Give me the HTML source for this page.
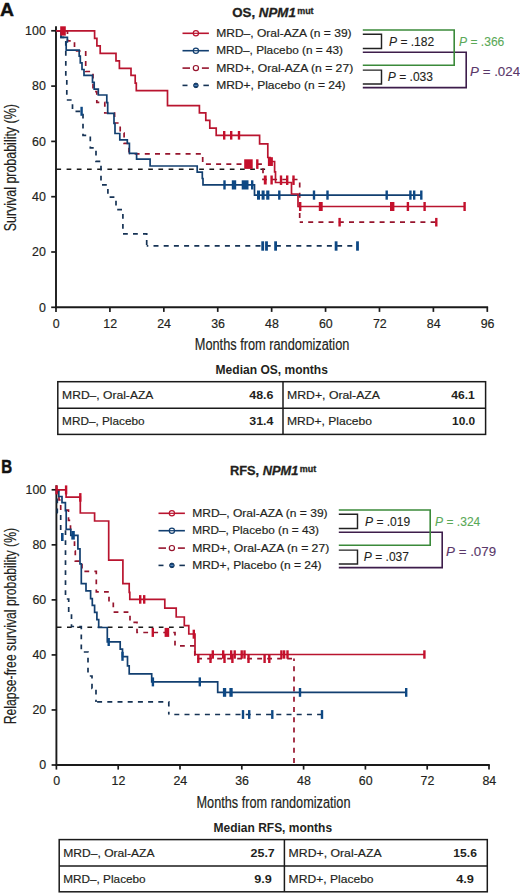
<!DOCTYPE html>
<html><head><meta charset="utf-8"><title>Figure</title>
<style>html,body{margin:0;padding:0;background:#fff;width:520px;height:893px;overflow:hidden}body{font-family:"Liberation Sans", sans-serif}</style></head>
<body>
<svg width="520" height="893" viewBox="0 0 520 893" style='display:block;font-family:"Liberation Sans", sans-serif'>
<rect x="0" y="0" width="520" height="893" fill="#fff"/>
<text x="0.0" y="15.8" font-size="18.6" font-weight="bold" font-style="normal" fill="#111" text-anchor="start" textLength="14.0" lengthAdjust="spacingAndGlyphs" stroke="#111" stroke-width="0.4">A</text>
<text x="232.2" y="16.9" font-size="13" font-weight="bold" fill="#231f20" stroke="#231f20" stroke-width="0.3"><tspan textLength="63.6" lengthAdjust="spacingAndGlyphs">OS, <tspan font-style="italic">NPM1</tspan></tspan><tspan x="297.2" font-size="9.4" font-weight="bold" font-style="normal" dy="-3.4" textLength="16.4" lengthAdjust="spacingAndGlyphs">mut</tspan></text>
<line x1="182.5" y1="33.3" x2="208.9" y2="33.3" stroke="#b9142f" stroke-width="1.6"/>
<circle cx="195.9" cy="33.3" r="2.6" fill="#fff" stroke="#b9142f" stroke-width="1.2"/>
<line x1="193.3" y1="33.3" x2="198.5" y2="33.3" stroke="#b9142f" stroke-width="1.2"/>
<line x1="182.5" y1="50.7" x2="208.9" y2="50.7" stroke="#123f70" stroke-width="1.6"/>
<circle cx="195.9" cy="50.7" r="2.6" fill="#fff" stroke="#123f70" stroke-width="1.2"/>
<line x1="193.3" y1="50.7" x2="198.5" y2="50.7" stroke="#123f70" stroke-width="1.2"/>
<line x1="182.5" y1="68.1" x2="190.0" y2="68.1" stroke="#96142d" stroke-width="1.6"/>
<line x1="201.9" y1="68.1" x2="208.9" y2="68.1" stroke="#96142d" stroke-width="1.6"/>
<circle cx="195.9" cy="68.1" r="2.6" fill="#fff" stroke="#96142d" stroke-width="1.2"/>
<line x1="182.5" y1="85.4" x2="187.5" y2="85.4" stroke="#163355" stroke-width="1.6"/>
<line x1="203.4" y1="85.4" x2="208.9" y2="85.4" stroke="#163355" stroke-width="1.6"/>
<circle cx="195.9" cy="85.4" r="2.3" fill="#0d4884" stroke="#163355" stroke-width="1.0"/>
<line x1="194.3" y1="85.4" x2="197.5" y2="85.4" stroke="#8fa8cc" stroke-width="0.7"/>
<text x="216.2" y="36.8" font-size="11.6" font-weight="normal" font-style="normal" fill="#231f20" text-anchor="start" textLength="135.4" lengthAdjust="spacingAndGlyphs" stroke="#231f20" stroke-width="0.18">MRD&#8211;, Oral-AZA (n = 39)</text>
<text x="216.2" y="54.2" font-size="11.6" font-weight="normal" font-style="normal" fill="#231f20" text-anchor="start" textLength="126.8" lengthAdjust="spacingAndGlyphs" stroke="#231f20" stroke-width="0.18">MRD&#8211;, Placebo (n = 43)</text>
<text x="216.2" y="71.6" font-size="11.6" font-weight="normal" font-style="normal" fill="#231f20" text-anchor="start" textLength="137.0" lengthAdjust="spacingAndGlyphs" stroke="#231f20" stroke-width="0.18">MRD+, Oral-AZA (n = 27)</text>
<text x="216.2" y="88.9" font-size="11.6" font-weight="normal" font-style="normal" fill="#231f20" text-anchor="start" textLength="129.4" lengthAdjust="spacingAndGlyphs" stroke="#231f20" stroke-width="0.18">MRD+, Placebo (n = 24)</text>
<path d="M362.8,52.3 H466.2 V87.6 H362.8" fill="none" stroke="#3d1d4b" stroke-width="1.6" stroke-linejoin="miter" stroke-linecap="butt"/>
<path d="M362.8,30 H454.2 V65.2 H362.8" fill="none" stroke="#3b8a3a" stroke-width="1.6" stroke-linejoin="miter" stroke-linecap="butt"/>
<path d="M362.8,34.3 H381.5 V48.5 H362.8" fill="none" stroke="#222" stroke-width="1.45" stroke-linejoin="miter" stroke-linecap="butt"/>
<path d="M362.8,70.1 H381.5 V83.9 H362.8" fill="none" stroke="#222" stroke-width="1.45" stroke-linejoin="miter" stroke-linecap="butt"/>
<text x="389.0" y="45.5" font-size="12.3" fill="#231f20" stroke="#231f20" stroke-width="0.1" textLength="45.2" lengthAdjust="spacingAndGlyphs"><tspan font-style="italic">P</tspan> = .182</text>
<text x="459.1" y="45.5" font-size="12.3" fill="#5aa957" stroke="#5aa957" stroke-width="0.1" textLength="45.2" lengthAdjust="spacingAndGlyphs"><tspan font-style="italic">P</tspan> = .366</text>
<text x="387.8" y="81.2" font-size="12.3" fill="#231f20" stroke="#231f20" stroke-width="0.1" textLength="45.2" lengthAdjust="spacingAndGlyphs"><tspan font-style="italic">P</tspan> = .033</text>
<text x="470.1" y="76.0" font-size="12.3" fill="#5a386a" stroke="#5a386a" stroke-width="0.1" textLength="50.0" lengthAdjust="spacingAndGlyphs"><tspan font-style="italic">P</tspan> = .024</text>
<line x1="56.0" y1="26.3" x2="56.0" y2="308.2" stroke="#1a1a1a" stroke-width="1.9"/>
<line x1="55.1" y1="307.3" x2="488.1" y2="307.3" stroke="#1a1a1a" stroke-width="1.9"/>
<line x1="51.2" y1="307.3" x2="56.0" y2="307.3" stroke="#1a1a1a" stroke-width="1.7"/>
<text x="45.8" y="311.5" font-size="12.4" font-weight="normal" font-style="normal" fill="#231f20" text-anchor="end" stroke="#231f20" stroke-width="0.18">0</text>
<line x1="51.2" y1="252.0" x2="56.0" y2="252.0" stroke="#1a1a1a" stroke-width="1.7"/>
<text x="45.8" y="256.2" font-size="12.4" font-weight="normal" font-style="normal" fill="#231f20" text-anchor="end" stroke="#231f20" stroke-width="0.18">20</text>
<line x1="51.2" y1="196.70000000000002" x2="56.0" y2="196.70000000000002" stroke="#1a1a1a" stroke-width="1.7"/>
<text x="45.8" y="200.9" font-size="12.4" font-weight="normal" font-style="normal" fill="#231f20" text-anchor="end" stroke="#231f20" stroke-width="0.18">40</text>
<line x1="51.2" y1="141.4" x2="56.0" y2="141.4" stroke="#1a1a1a" stroke-width="1.7"/>
<text x="45.8" y="145.6" font-size="12.4" font-weight="normal" font-style="normal" fill="#231f20" text-anchor="end" stroke="#231f20" stroke-width="0.18">60</text>
<line x1="51.2" y1="86.10000000000002" x2="56.0" y2="86.10000000000002" stroke="#1a1a1a" stroke-width="1.7"/>
<text x="45.8" y="90.30000000000003" font-size="12.4" font-weight="normal" font-style="normal" fill="#231f20" text-anchor="end" stroke="#231f20" stroke-width="0.18">80</text>
<line x1="51.2" y1="30.80000000000001" x2="56.0" y2="30.80000000000001" stroke="#1a1a1a" stroke-width="1.7"/>
<text x="45.8" y="35.000000000000014" font-size="12.4" font-weight="normal" font-style="normal" fill="#231f20" text-anchor="end" stroke="#231f20" stroke-width="0.18">100</text>
<line x1="56.0" y1="307.3" x2="56.0" y2="311.90000000000003" stroke="#1a1a1a" stroke-width="1.7"/>
<text x="56.3" y="327.7" font-size="12.4" font-weight="normal" font-style="normal" fill="#231f20" text-anchor="middle" stroke="#231f20" stroke-width="0.18">0</text>
<line x1="109.9125" y1="307.3" x2="109.9125" y2="311.90000000000003" stroke="#1a1a1a" stroke-width="1.7"/>
<text x="110.21249999999999" y="327.7" font-size="12.4" font-weight="normal" font-style="normal" fill="#231f20" text-anchor="middle" stroke="#231f20" stroke-width="0.18">12</text>
<line x1="163.825" y1="307.3" x2="163.825" y2="311.90000000000003" stroke="#1a1a1a" stroke-width="1.7"/>
<text x="164.125" y="327.7" font-size="12.4" font-weight="normal" font-style="normal" fill="#231f20" text-anchor="middle" stroke="#231f20" stroke-width="0.18">24</text>
<line x1="217.7375" y1="307.3" x2="217.7375" y2="311.90000000000003" stroke="#1a1a1a" stroke-width="1.7"/>
<text x="218.03750000000002" y="327.7" font-size="12.4" font-weight="normal" font-style="normal" fill="#231f20" text-anchor="middle" stroke="#231f20" stroke-width="0.18">36</text>
<line x1="271.65" y1="307.3" x2="271.65" y2="311.90000000000003" stroke="#1a1a1a" stroke-width="1.7"/>
<text x="271.95" y="327.7" font-size="12.4" font-weight="normal" font-style="normal" fill="#231f20" text-anchor="middle" stroke="#231f20" stroke-width="0.18">48</text>
<line x1="325.5625" y1="307.3" x2="325.5625" y2="311.90000000000003" stroke="#1a1a1a" stroke-width="1.7"/>
<text x="325.8625" y="327.7" font-size="12.4" font-weight="normal" font-style="normal" fill="#231f20" text-anchor="middle" stroke="#231f20" stroke-width="0.18">60</text>
<line x1="379.475" y1="307.3" x2="379.475" y2="311.90000000000003" stroke="#1a1a1a" stroke-width="1.7"/>
<text x="379.77500000000003" y="327.7" font-size="12.4" font-weight="normal" font-style="normal" fill="#231f20" text-anchor="middle" stroke="#231f20" stroke-width="0.18">72</text>
<line x1="433.3875" y1="307.3" x2="433.3875" y2="311.90000000000003" stroke="#1a1a1a" stroke-width="1.7"/>
<text x="433.6875" y="327.7" font-size="12.4" font-weight="normal" font-style="normal" fill="#231f20" text-anchor="middle" stroke="#231f20" stroke-width="0.18">84</text>
<line x1="487.3" y1="307.3" x2="487.3" y2="311.90000000000003" stroke="#1a1a1a" stroke-width="1.7"/>
<text x="487.6" y="327.7" font-size="12.4" font-weight="normal" font-style="normal" fill="#231f20" text-anchor="middle" stroke="#231f20" stroke-width="0.18">96</text>
<text x="194.8" y="350.0" font-size="15.8" font-weight="normal" font-style="normal" fill="#231f20" text-anchor="start" textLength="154.6" lengthAdjust="spacingAndGlyphs" stroke="#231f20" stroke-width="0.18">Months from randomization</text>
<text transform="translate(15.9,231.3) rotate(-90)" x="0" y="0" font-size="15.8" fill="#231f20" stroke="#231f20" stroke-width="0.18" textLength="127.2" lengthAdjust="spacingAndGlyphs">Survival probability (%)</text>
<path d="M56.4,169.2 H269.5" fill="none" stroke="#1a1a1a" stroke-width="1.5" stroke-dasharray="4.7 5.5" stroke-linejoin="miter" stroke-linecap="butt"/>
<path d="M56,30.8 H61 V37.3 H65.8 V78 H66.8 V100 H72.5 V111.3 H83 V135.4 H90.3 V147.9 H96 V161.3 H101 V184.8 H107.9 V197.2 H116 V209.6 H122.9 V233.8 H146.7 V245.9" fill="none" stroke="#163355" stroke-width="1.7" stroke-dasharray="4.8 5.2" stroke-linejoin="miter" stroke-linecap="butt"/>
<path d="M146.7,245.9 H357.5" fill="none" stroke="#163355" stroke-width="1.7" stroke-dasharray="5 5.2" stroke-linejoin="miter" stroke-linecap="butt" stroke-dashoffset="3.4"/>
<rect x="80.39999999999999" y="106.8" width="2.4" height="9" fill="#0d4884"/>
<rect x="261.3" y="241.3" width="2.8" height="9.4" fill="#0d4884"/>
<rect x="265.1" y="241.3" width="2.8" height="9.4" fill="#0d4884"/>
<rect x="274.20000000000005" y="241.3" width="2.8" height="9.4" fill="#0d4884"/>
<rect x="334.70000000000005" y="241.3" width="2.8" height="9.4" fill="#0d4884"/>
<rect x="356.1" y="241.3" width="2.8" height="9.4" fill="#0d4884"/>
<path d="M56,30.8 H67.5 V40.9 H74.5 V51 H85.7 V71.5 H93 V91.7 H96.8 V102.3 H104.8 V113 H114.6 V123 H120.2 V133 H124.1 V143.3 H129 V153.8" fill="none" stroke="#96142d" stroke-width="1.7" stroke-dasharray="4.8 5.2" stroke-linejoin="miter" stroke-linecap="butt"/>
<path d="M129,153.8 H202.7 V164.1 H263 V179.5 H299.7 V222.2" fill="none" stroke="#96142d" stroke-width="1.7" stroke-dasharray="5 5.2" stroke-linejoin="miter" stroke-linecap="butt" stroke-dashoffset="4.6"/>
<path d="M299.7,222.2 H436.3" fill="none" stroke="#96142d" stroke-width="1.7" stroke-dasharray="5 5.2" stroke-linejoin="miter" stroke-linecap="butt" stroke-dashoffset="1.7"/>
<rect x="244.2" y="159.29999999999998" width="8.5" height="9.6" fill="#c4102c"/>
<rect x="256.1" y="159.29999999999998" width="2.4" height="9.6" fill="#c4102c"/>
<rect x="263.8" y="175.5" width="2.8999999999999773" height="9.0" fill="#c4102c"/>
<rect x="270.40000000000003" y="175.5" width="2.4" height="9.0" fill="#c4102c"/>
<rect x="338.40000000000003" y="217.89999999999998" width="2.4" height="8.6" fill="#c4102c"/>
<rect x="435.1" y="217.89999999999998" width="2.4" height="8.6" fill="#c4102c"/>
<path d="M56,30.8 H61 V37.3 H67.4 V42 H66.2 V50.1 H79.2 V56.2 H80.3 V62.8 H82 V69.5 H84 V75.4 H92.5 V82.3 H94.2 V89.2 H98.3 V95 H106.8 V102.7 H107.7 V113.3 H114 V123.5 H115 V133.5 H119.8 V139.9 H127.3 V143.3 H129.4 V153.4 H136.6 V159.1 H150.1 V166 H197.2 V172.2 H202.3 V178.5 H203 V184.8 H254.5 V195.2 H421.3" fill="none" stroke="#123f70" stroke-width="1.7" stroke-linejoin="miter" stroke-linecap="butt"/>
<rect x="223.3" y="180.3" width="2.4" height="9.2" fill="#0d4884"/>
<rect x="231.8" y="180.3" width="4.399999999999977" height="9.2" fill="#0d4884"/>
<rect x="241.7" y="180.3" width="6.800000000000011" height="9.2" fill="#0d4884"/>
<rect x="251.0" y="180.3" width="2.4" height="9.2" fill="#0d4884"/>
<rect x="257.0" y="190.5" width="3.0" height="9.2" fill="#0d4884"/>
<rect x="261.6" y="190.5" width="3.0" height="9.2" fill="#0d4884"/>
<rect x="266.2" y="190.5" width="3.1999999999999886" height="9.2" fill="#0d4884"/>
<rect x="278.1" y="190.5" width="2.4" height="9.2" fill="#0d4884"/>
<rect x="312.8" y="190.5" width="2.4" height="9.2" fill="#0d4884"/>
<rect x="326.3" y="190.5" width="2.4" height="9.2" fill="#0d4884"/>
<rect x="385.5" y="190.5" width="2.4" height="9.2" fill="#0d4884"/>
<rect x="409.2" y="190.5" width="2.4" height="9.2" fill="#0d4884"/>
<rect x="413.0" y="190.5" width="2.4" height="9.2" fill="#0d4884"/>
<rect x="420.1" y="190.5" width="2.4" height="9.2" fill="#0d4884"/>
<path d="M56,30.8 H94.6 V38.3 H96.9 V45.8 H100.2 V53.3 H116 V60.8 H119.4 V68.3 H131 V75.4 H135.2 V83.2 H136.3 V90.6 H167.5 V105.6 H199.4 V112.9 H205.8 V120.4 H209.8 V128.2 H216.2 V135.3 H259.6 V143.8 H267.8 V157.5 H270 V161.5 H274.6 V171.8 H275.5 V182.5 H291.5 V194 H298 V206.5 H464.6" fill="none" stroke="#b9142f" stroke-width="1.7" stroke-linejoin="miter" stroke-linecap="butt"/>
<rect x="60.2" y="26.3" width="5.599999999999994" height="9.3" fill="#c4102c"/>
<rect x="223.0" y="131.0" width="2.4" height="8.6" fill="#c4102c"/>
<rect x="230.0" y="131.0" width="2.4" height="8.6" fill="#c4102c"/>
<rect x="237.8" y="131.0" width="2.4" height="8.6" fill="#c4102c"/>
<rect x="267.9" y="157.2" width="5.0" height="8.800000000000011" fill="#c4102c"/>
<rect x="279.8" y="175.45" width="2.4" height="9.5" fill="#c4102c"/>
<rect x="286.0" y="175.45" width="2.4" height="9.5" fill="#c4102c"/>
<rect x="292.3" y="175.45" width="2.4" height="9.5" fill="#c4102c"/>
<rect x="299.0" y="202.0" width="2.4" height="9.0" fill="#c4102c"/>
<rect x="318.8" y="202.0" width="3.8999999999999773" height="9.0" fill="#c4102c"/>
<rect x="390.0" y="202.0" width="4.399999999999977" height="9.0" fill="#c4102c"/>
<rect x="406.7" y="202.0" width="2.4" height="9.0" fill="#c4102c"/>
<rect x="423.40000000000003" y="202.0" width="2.4" height="9.0" fill="#c4102c"/>
<rect x="463.40000000000003" y="202.0" width="2.4" height="9.0" fill="#c4102c"/>
<rect x="57.8" y="381.7" width="427.8" height="52.69999999999999" fill="none" stroke="#1a1a1a" stroke-width="1.5"/>
<line x1="57.8" y1="408.2" x2="485.6" y2="408.2" stroke="#1a1a1a" stroke-width="1.5"/>
<line x1="283.0" y1="381.7" x2="283.0" y2="434.4" stroke="#1a1a1a" stroke-width="1.5"/>
<text x="215.6" y="374.0" font-size="12.4" font-weight="bold" font-style="normal" fill="#231f20" text-anchor="start" textLength="112.3" lengthAdjust="spacingAndGlyphs">Median OS, months</text>
<text x="62.1" y="399.4" font-size="11.6" font-weight="normal" font-style="normal" fill="#231f20" text-anchor="start" textLength="91.3" lengthAdjust="spacingAndGlyphs" stroke="#231f20" stroke-width="0.18">MRD&#8211;, Oral-AZA</text>
<text x="62.1" y="425.3" font-size="11.6" font-weight="normal" font-style="normal" fill="#231f20" text-anchor="start" textLength="82.5" lengthAdjust="spacingAndGlyphs" stroke="#231f20" stroke-width="0.18">MRD&#8211;, Placebo</text>
<text x="287.0" y="399.4" font-size="11.6" font-weight="normal" font-style="normal" fill="#231f20" text-anchor="start" textLength="93.0" lengthAdjust="spacingAndGlyphs" stroke="#231f20" stroke-width="0.18">MRD+, Oral-AZA</text>
<text x="287.0" y="425.3" font-size="11.6" font-weight="normal" font-style="normal" fill="#231f20" text-anchor="start" textLength="85.0" lengthAdjust="spacingAndGlyphs" stroke="#231f20" stroke-width="0.18">MRD+, Placebo</text>
<text x="273.5" y="399.4" font-size="11.6" font-weight="bold" font-style="normal" fill="#231f20" text-anchor="end" textLength="24.2" lengthAdjust="spacingAndGlyphs">48.6</text>
<text x="273.5" y="425.3" font-size="11.6" font-weight="bold" font-style="normal" fill="#231f20" text-anchor="end" textLength="24.2" lengthAdjust="spacingAndGlyphs">31.4</text>
<text x="474.8" y="399.4" font-size="11.6" font-weight="bold" font-style="normal" fill="#231f20" text-anchor="end" textLength="23.6" lengthAdjust="spacingAndGlyphs">46.1</text>
<text x="475.2" y="425.3" font-size="11.6" font-weight="bold" font-style="normal" fill="#231f20" text-anchor="end" textLength="23.2" lengthAdjust="spacingAndGlyphs">10.0</text>
<text x="1.2" y="473.0" font-size="17.6" font-weight="bold" font-style="normal" fill="#111" text-anchor="start" textLength="10.9" lengthAdjust="spacingAndGlyphs" stroke="#111" stroke-width="0.5">B</text>
<text x="229.9" y="475.1" font-size="13" font-weight="bold" fill="#231f20" stroke="#231f20" stroke-width="0.3"><tspan textLength="68.5" lengthAdjust="spacingAndGlyphs">RFS, <tspan font-style="italic">NPM1</tspan></tspan><tspan x="299.79999999999995" font-size="9.4" font-weight="bold" font-style="normal" dy="-3.4" textLength="16.4" lengthAdjust="spacingAndGlyphs">mut</tspan></text>
<line x1="158.5" y1="513.3" x2="184.9" y2="513.3" stroke="#b9142f" stroke-width="1.6"/>
<circle cx="171.9" cy="513.3" r="2.6" fill="#fff" stroke="#b9142f" stroke-width="1.2"/>
<line x1="169.3" y1="513.3" x2="174.5" y2="513.3" stroke="#b9142f" stroke-width="1.2"/>
<line x1="158.5" y1="530.7" x2="184.9" y2="530.7" stroke="#123f70" stroke-width="1.6"/>
<circle cx="171.9" cy="530.7" r="2.6" fill="#fff" stroke="#123f70" stroke-width="1.2"/>
<line x1="169.3" y1="530.7" x2="174.5" y2="530.7" stroke="#123f70" stroke-width="1.2"/>
<line x1="158.5" y1="548.1" x2="166.0" y2="548.1" stroke="#96142d" stroke-width="1.6"/>
<line x1="177.9" y1="548.1" x2="184.9" y2="548.1" stroke="#96142d" stroke-width="1.6"/>
<circle cx="171.9" cy="548.1" r="2.6" fill="#fff" stroke="#96142d" stroke-width="1.2"/>
<line x1="158.5" y1="565.4" x2="163.5" y2="565.4" stroke="#163355" stroke-width="1.6"/>
<line x1="179.4" y1="565.4" x2="184.9" y2="565.4" stroke="#163355" stroke-width="1.6"/>
<circle cx="171.9" cy="565.4" r="2.3" fill="#0d4884" stroke="#163355" stroke-width="1.0"/>
<line x1="170.3" y1="565.4" x2="173.5" y2="565.4" stroke="#8fa8cc" stroke-width="0.7"/>
<text x="192.2" y="516.8" font-size="11.6" font-weight="normal" font-style="normal" fill="#231f20" text-anchor="start" textLength="135.4" lengthAdjust="spacingAndGlyphs" stroke="#231f20" stroke-width="0.18">MRD&#8211;, Oral-AZA (n = 39)</text>
<text x="192.2" y="534.2" font-size="11.6" font-weight="normal" font-style="normal" fill="#231f20" text-anchor="start" textLength="126.8" lengthAdjust="spacingAndGlyphs" stroke="#231f20" stroke-width="0.18">MRD&#8211;, Placebo (n = 43)</text>
<text x="192.2" y="551.6" font-size="11.6" font-weight="normal" font-style="normal" fill="#231f20" text-anchor="start" textLength="137.0" lengthAdjust="spacingAndGlyphs" stroke="#231f20" stroke-width="0.18">MRD+, Oral-AZA (n = 27)</text>
<text x="192.2" y="568.9" font-size="11.6" font-weight="normal" font-style="normal" fill="#231f20" text-anchor="start" textLength="129.4" lengthAdjust="spacingAndGlyphs" stroke="#231f20" stroke-width="0.18">MRD+, Placebo (n = 24)</text>
<path d="M338.8,532.3 H442.2 V567.6 H338.8" fill="none" stroke="#3d1d4b" stroke-width="1.6" stroke-linejoin="miter" stroke-linecap="butt"/>
<path d="M338.8,510 H430.2 V545.2 H338.8" fill="none" stroke="#3b8a3a" stroke-width="1.6" stroke-linejoin="miter" stroke-linecap="butt"/>
<path d="M338.8,514.3 H357.5 V528.5 H338.8" fill="none" stroke="#222" stroke-width="1.45" stroke-linejoin="miter" stroke-linecap="butt"/>
<path d="M338.8,550.1 H357.5 V563.9 H338.8" fill="none" stroke="#222" stroke-width="1.45" stroke-linejoin="miter" stroke-linecap="butt"/>
<text x="365.0" y="525.5" font-size="12.3" fill="#231f20" stroke="#231f20" stroke-width="0.1" textLength="45.2" lengthAdjust="spacingAndGlyphs"><tspan font-style="italic">P</tspan> = .019</text>
<text x="435.1" y="525.5" font-size="12.3" fill="#5aa957" stroke="#5aa957" stroke-width="0.1" textLength="45.2" lengthAdjust="spacingAndGlyphs"><tspan font-style="italic">P</tspan> = .324</text>
<text x="363.8" y="561.2" font-size="12.3" fill="#231f20" stroke="#231f20" stroke-width="0.1" textLength="45.2" lengthAdjust="spacingAndGlyphs"><tspan font-style="italic">P</tspan> = .037</text>
<text x="446.1" y="556.0" font-size="12.3" fill="#5a386a" stroke="#5a386a" stroke-width="0.1" textLength="50.0" lengthAdjust="spacingAndGlyphs"><tspan font-style="italic">P</tspan> = .079</text>
<line x1="56.4" y1="485.3" x2="56.4" y2="765.9" stroke="#1a1a1a" stroke-width="1.9"/>
<line x1="55.5" y1="765.0" x2="489.8" y2="765.0" stroke="#1a1a1a" stroke-width="1.9"/>
<line x1="51.6" y1="765.0" x2="56.4" y2="765.0" stroke="#1a1a1a" stroke-width="1.7"/>
<text x="46.2" y="769.2" font-size="12.4" font-weight="normal" font-style="normal" fill="#231f20" text-anchor="end" stroke="#231f20" stroke-width="0.18">0</text>
<line x1="51.6" y1="709.96" x2="56.4" y2="709.96" stroke="#1a1a1a" stroke-width="1.7"/>
<text x="46.2" y="714.1600000000001" font-size="12.4" font-weight="normal" font-style="normal" fill="#231f20" text-anchor="end" stroke="#231f20" stroke-width="0.18">20</text>
<line x1="51.6" y1="654.92" x2="56.4" y2="654.92" stroke="#1a1a1a" stroke-width="1.7"/>
<text x="46.2" y="659.12" font-size="12.4" font-weight="normal" font-style="normal" fill="#231f20" text-anchor="end" stroke="#231f20" stroke-width="0.18">40</text>
<line x1="51.6" y1="599.88" x2="56.4" y2="599.88" stroke="#1a1a1a" stroke-width="1.7"/>
<text x="46.2" y="604.08" font-size="12.4" font-weight="normal" font-style="normal" fill="#231f20" text-anchor="end" stroke="#231f20" stroke-width="0.18">60</text>
<line x1="51.6" y1="544.84" x2="56.4" y2="544.84" stroke="#1a1a1a" stroke-width="1.7"/>
<text x="46.2" y="549.0400000000001" font-size="12.4" font-weight="normal" font-style="normal" fill="#231f20" text-anchor="end" stroke="#231f20" stroke-width="0.18">80</text>
<line x1="51.6" y1="489.8" x2="56.4" y2="489.8" stroke="#1a1a1a" stroke-width="1.7"/>
<text x="46.2" y="494.0" font-size="12.4" font-weight="normal" font-style="normal" fill="#231f20" text-anchor="end" stroke="#231f20" stroke-width="0.18">100</text>
<line x1="56.4" y1="765.0" x2="56.4" y2="769.6" stroke="#1a1a1a" stroke-width="1.7"/>
<text x="56.699999999999996" y="785.4" font-size="12.4" font-weight="normal" font-style="normal" fill="#231f20" text-anchor="middle" stroke="#231f20" stroke-width="0.18">0</text>
<line x1="118.2" y1="765.0" x2="118.2" y2="769.6" stroke="#1a1a1a" stroke-width="1.7"/>
<text x="118.5" y="785.4" font-size="12.4" font-weight="normal" font-style="normal" fill="#231f20" text-anchor="middle" stroke="#231f20" stroke-width="0.18">12</text>
<line x1="180.0" y1="765.0" x2="180.0" y2="769.6" stroke="#1a1a1a" stroke-width="1.7"/>
<text x="180.3" y="785.4" font-size="12.4" font-weight="normal" font-style="normal" fill="#231f20" text-anchor="middle" stroke="#231f20" stroke-width="0.18">24</text>
<line x1="241.8" y1="765.0" x2="241.8" y2="769.6" stroke="#1a1a1a" stroke-width="1.7"/>
<text x="242.10000000000002" y="785.4" font-size="12.4" font-weight="normal" font-style="normal" fill="#231f20" text-anchor="middle" stroke="#231f20" stroke-width="0.18">36</text>
<line x1="303.6" y1="765.0" x2="303.6" y2="769.6" stroke="#1a1a1a" stroke-width="1.7"/>
<text x="303.90000000000003" y="785.4" font-size="12.4" font-weight="normal" font-style="normal" fill="#231f20" text-anchor="middle" stroke="#231f20" stroke-width="0.18">48</text>
<line x1="365.4" y1="765.0" x2="365.4" y2="769.6" stroke="#1a1a1a" stroke-width="1.7"/>
<text x="365.7" y="785.4" font-size="12.4" font-weight="normal" font-style="normal" fill="#231f20" text-anchor="middle" stroke="#231f20" stroke-width="0.18">60</text>
<line x1="427.2" y1="765.0" x2="427.2" y2="769.6" stroke="#1a1a1a" stroke-width="1.7"/>
<text x="427.5" y="785.4" font-size="12.4" font-weight="normal" font-style="normal" fill="#231f20" text-anchor="middle" stroke="#231f20" stroke-width="0.18">72</text>
<line x1="489.0" y1="765.0" x2="489.0" y2="769.6" stroke="#1a1a1a" stroke-width="1.7"/>
<text x="489.3" y="785.4" font-size="12.4" font-weight="normal" font-style="normal" fill="#231f20" text-anchor="middle" stroke="#231f20" stroke-width="0.18">84</text>
<text x="196.5" y="807.5" font-size="15.8" font-weight="normal" font-style="normal" fill="#231f20" text-anchor="start" textLength="154.0" lengthAdjust="spacingAndGlyphs" stroke="#231f20" stroke-width="0.18">Months from randomization</text>
<text transform="translate(15.9,724.3) rotate(-90)" x="0" y="0" font-size="15.8" fill="#231f20" stroke="#231f20" stroke-width="0.18" textLength="196.4" lengthAdjust="spacingAndGlyphs">Relapse-free survival probability (%)</text>
<path d="M56.8,627.3 H187" fill="none" stroke="#1a1a1a" stroke-width="1.5" stroke-dasharray="4.7 5.5" stroke-linejoin="miter" stroke-linecap="butt"/>
<path d="M56,489.8 H57.3 V512.7 H60.7 V530 H65.5 V599 H68.7 V614 H71.5 V626.5 H81.3 V652 H88 V676 H92 V688.5 H96 V701.9" fill="none" stroke="#163355" stroke-width="1.7" stroke-dasharray="4.8 5.2" stroke-linejoin="miter" stroke-linecap="butt"/>
<path d="M96,701.9 H168.8 V714.5" fill="none" stroke="#163355" stroke-width="1.7" stroke-dasharray="5 5.2" stroke-linejoin="miter" stroke-linecap="butt" stroke-dashoffset="9.1"/>
<path d="M168.8,714.5 H322" fill="none" stroke="#163355" stroke-width="1.7" stroke-dasharray="5 5.2" stroke-linejoin="miter" stroke-linecap="butt" stroke-dashoffset="4.7"/>
<rect x="61.0" y="533.0" width="2.6000000000000014" height="8" fill="#0d4884"/>
<rect x="241.8" y="710.1" width="2.4" height="8.8" fill="#0d4884"/>
<rect x="248.0" y="710.1" width="2.4" height="8.8" fill="#0d4884"/>
<rect x="271.1" y="710.1" width="2.4" height="8.8" fill="#0d4884"/>
<rect x="320.8" y="710.1" width="2.4" height="8.8" fill="#0d4884"/>
<path d="M56,489.8 H59 V500 H60.7 V510.2 H68.5 V520.4 H70.5 V530.6 H73 V540.8 H74.5 V551 H75.3 V561.2 H82 V571.4 H96.3 V591.8 H109 V602 H113.3 V612.2 H130 V622.4 H137 V632.5 H175 V645.8 H194.8 V658.6 H294" fill="none" stroke="#96142d" stroke-width="1.7" stroke-dasharray="4.8 5.2" stroke-linejoin="miter" stroke-linecap="butt"/>
<path d="M294,658.6 V765" fill="none" stroke="#96142d" stroke-width="1.7" stroke-dasharray="5 5.2" stroke-linejoin="miter" stroke-linecap="butt" stroke-dashoffset="2.6"/>
<rect x="151.60000000000002" y="627.9" width="2.4" height="9.0" fill="#c4102c"/>
<rect x="164.6" y="627.9" width="4.599999999999994" height="9.0" fill="#c4102c"/>
<rect x="197.10000000000002" y="655.0" width="2.4" height="8.0" fill="#c4102c"/>
<rect x="209.3" y="655.0" width="2.4" height="8.0" fill="#c4102c"/>
<rect x="223.3" y="655.0" width="2.4" height="8.0" fill="#c4102c"/>
<rect x="231.20000000000002" y="655.0" width="2.4" height="8.0" fill="#c4102c"/>
<rect x="247.3" y="655.0" width="2.4" height="8.0" fill="#c4102c"/>
<rect x="263.40000000000003" y="655.0" width="2.4" height="8.0" fill="#c4102c"/>
<rect x="268.1" y="655.0" width="2.4" height="8.0" fill="#c4102c"/>
<path d="M56,489.8 H58.8 V496.5 H62 V502.6 H65.4 V510.6 H66.2 V529.3 H70.8 V535.4 H77.9 V548.8 H80 V563.8 H81.3 V583.7 H86 V590.9 H90.6 V598.7 H92.3 V605.4 H94.6 V612.3 H96.9 V619.6 H98.7 V627.5 H107.3 V641.8 H120.2 V649.2 H122.5 V656.6 H127.5 V665.8 H129.2 V673.8 H151.7 V681.8 H217.7 V692.3 H406.2" fill="none" stroke="#123f70" stroke-width="1.7" stroke-linejoin="miter" stroke-linecap="butt"/>
<rect x="71.3" y="531.0" width="3.5" height="8.6" fill="#0d4884"/>
<rect x="107.5" y="638.0" width="2.4" height="8" fill="#0d4884"/>
<rect x="121.3" y="651.8" width="2.4" height="9" fill="#0d4884"/>
<rect x="151.70000000000002" y="677.4" width="2.4" height="9" fill="#0d4884"/>
<rect x="198.60000000000002" y="677.4" width="2.4" height="9" fill="#0d4884"/>
<rect x="222.9" y="688.0" width="3.299999999999983" height="8.8" fill="#0d4884"/>
<rect x="229.4" y="688.0" width="3.299999999999983" height="8.8" fill="#0d4884"/>
<rect x="298.8" y="688.0" width="2.4" height="8.8" fill="#0d4884"/>
<rect x="405.0" y="688.0" width="2.4" height="8.8" fill="#0d4884"/>
<path d="M56,489.8 H66.1 V497.2 H80.3 V513 H94.6 V521 H108.7 V560.2 H122.9 V583.7 H129.2 V592.3 H129.8 V599.3 H164.8 V608.2 H176.2 V617 H184.3 V625.6 H188.8 V634 H195 V654.5 H424.4" fill="none" stroke="#b9142f" stroke-width="1.7" stroke-linejoin="miter" stroke-linecap="butt"/>
<rect x="55.4" y="485.4" width="2.4" height="9" fill="#c4102c"/>
<rect x="64.89999999999999" y="485.4" width="2.4" height="9" fill="#c4102c"/>
<rect x="79.1" y="493.09999999999997" width="2.4" height="8.6" fill="#c4102c"/>
<rect x="139.0" y="595.1" width="2.4" height="8.6" fill="#c4102c"/>
<rect x="143.0" y="595.1" width="2.4" height="8.6" fill="#c4102c"/>
<rect x="192.60000000000002" y="629.7" width="2.4" height="9" fill="#c4102c"/>
<rect x="211.60000000000002" y="650.3" width="2.4" height="8.4" fill="#c4102c"/>
<rect x="222.0" y="650.3" width="2.4" height="8.4" fill="#c4102c"/>
<rect x="230.0" y="650.3" width="2.4" height="8.4" fill="#c4102c"/>
<rect x="233.5" y="650.3" width="2.4" height="8.4" fill="#c4102c"/>
<rect x="240.5" y="650.3" width="2.4" height="8.4" fill="#c4102c"/>
<rect x="243.3" y="650.3" width="2.4" height="8.4" fill="#c4102c"/>
<rect x="280.2" y="650.3" width="2.4" height="8.4" fill="#c4102c"/>
<rect x="282.90000000000003" y="650.3" width="2.4" height="8.4" fill="#c4102c"/>
<rect x="286.3" y="650.3" width="2.4" height="8.4" fill="#c4102c"/>
<rect x="423.2" y="650.3" width="2.4" height="8.4" fill="#c4102c"/>
<rect x="59.2" y="839.6" width="428.1" height="52.19999999999993" fill="none" stroke="#1a1a1a" stroke-width="1.5"/>
<line x1="59.2" y1="865.9" x2="487.3" y2="865.9" stroke="#1a1a1a" stroke-width="1.5"/>
<line x1="284.4" y1="839.6" x2="284.4" y2="891.8" stroke="#1a1a1a" stroke-width="1.5"/>
<text x="213.5" y="831.7" font-size="12.4" font-weight="bold" font-style="normal" fill="#231f20" text-anchor="start" textLength="118.6" lengthAdjust="spacingAndGlyphs">Median RFS, months</text>
<text x="63.2" y="857.3" font-size="11.6" font-weight="normal" font-style="normal" fill="#231f20" text-anchor="start" textLength="91.3" lengthAdjust="spacingAndGlyphs" stroke="#231f20" stroke-width="0.18">MRD&#8211;, Oral-AZA</text>
<text x="63.2" y="883.3" font-size="11.6" font-weight="normal" font-style="normal" fill="#231f20" text-anchor="start" textLength="82.5" lengthAdjust="spacingAndGlyphs" stroke="#231f20" stroke-width="0.18">MRD&#8211;, Placebo</text>
<text x="288.6" y="857.3" font-size="11.6" font-weight="normal" font-style="normal" fill="#231f20" text-anchor="start" textLength="93.0" lengthAdjust="spacingAndGlyphs" stroke="#231f20" stroke-width="0.18">MRD+, Oral-AZA</text>
<text x="288.6" y="883.3" font-size="11.6" font-weight="normal" font-style="normal" fill="#231f20" text-anchor="start" textLength="85.0" lengthAdjust="spacingAndGlyphs" stroke="#231f20" stroke-width="0.18">MRD+, Placebo</text>
<text x="274.8" y="857.3" font-size="11.6" font-weight="bold" font-style="normal" fill="#231f20" text-anchor="end" textLength="24.2" lengthAdjust="spacingAndGlyphs">25.7</text>
<text x="271.9" y="883.3" font-size="11.6" font-weight="bold" font-style="normal" fill="#231f20" text-anchor="end" textLength="17.6" lengthAdjust="spacingAndGlyphs">9.9</text>
<text x="476.9" y="857.3" font-size="11.6" font-weight="bold" font-style="normal" fill="#231f20" text-anchor="end" textLength="23.6" lengthAdjust="spacingAndGlyphs">15.6</text>
<text x="474.0" y="883.3" font-size="11.6" font-weight="bold" font-style="normal" fill="#231f20" text-anchor="end" textLength="17.8" lengthAdjust="spacingAndGlyphs">4.9</text>
</svg>
</body></html>
